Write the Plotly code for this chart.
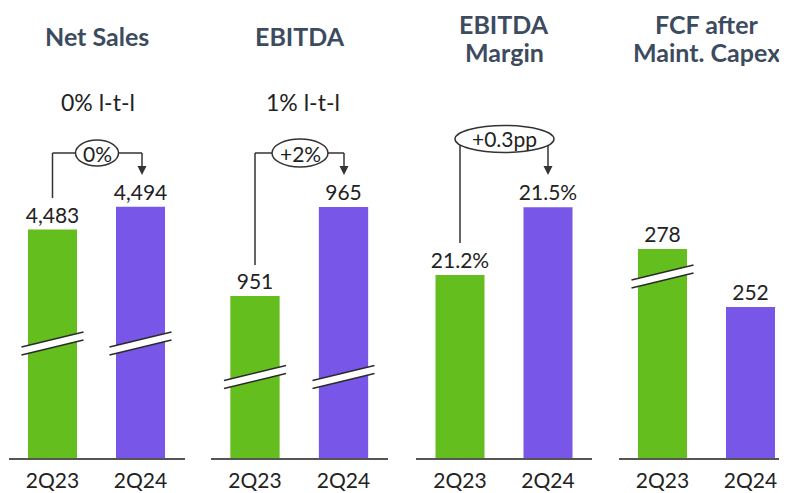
import plotly.graph_objects as go

# ---------------- data ----------------
periods = ["2Q23", "2Q24"]
net_sales = [4483, 4494]
ebitda = [951, 965]
ebitda_margin = [21.2, 21.5]
fcf_after_maint_capex = [278, 252]

panel_titles = [["Net Sales"], ["EBITDA"], ["EBITDA", "Margin"], ["FCF after", "Maint. Capex"]]
ltl_labels = ["0% l-t-l", "1% l-t-l", None, None]
change_labels = ["0%", "+2%", "+0.3pp", None]

# ---------------- styling ----------------
# the page body has an 8px margin, so the figure is offset by 8px
OFF = 8
W, H = 787 - OFF, 493 - OFF
GREEN = "#63BE1E"
PURPLE = "#7856E8"
TITLE_COLOR = "#3D4B5F"
TEXT_COLOR = "#222222"
LINE_COLOR = "#333333"
FONT = "Lato"

def px(x):
    return (x - OFF) / W

def py(y):
    return 1 - (y - OFF) / H

series = [net_sales, ebitda, ebitda_margin, fcf_after_maint_capex]
templates = ["%{y:,}", "%{y:,}", "%{y:.1f}%", "%{y:,}"]
# truncated (broken) value axes
y_ranges = [[4372.8, 4593.7], [925.5, 997.55], [20.393, 22.414], [184.3, 389.6]]
x_domains = [[px(8.5), px(184.5)], [px(210.75), px(387.75)], [px(416), px(592)], [px(618.5), 1.0]]
x_ranges = [[-0.5, 1.5], [-0.5, 1.5], [-0.5, 1.5], [-0.5, 1.415]]
y_base_px, y_top_px = 458, 0
y_domain = [py(y_base_px), 1.0]
# scale the ranges for the domain top at y=OFF instead of y=0
y_ranges = [[lo, lo + (hi - lo) * (y_base_px - OFF) / (y_base_px - y_top_px)] for lo, hi in y_ranges]

fig = go.Figure()
for i, vals in enumerate(series):
    n = "" if i == 0 else str(i + 1)
    fig.add_trace(go.Bar(
        x=periods, y=vals,
        marker=dict(color=[GREEN, PURPLE], line=dict(width=0)),
        texttemplate=templates[i], textposition="outside", constraintext="none",
        textfont=dict(family=FONT, size=21, color=TEXT_COLOR),
        cliponaxis=False,
        xaxis="x" + n, yaxis="y" + n,
        hoverinfo="skip", showlegend=False,
    ))
    fig.layout["xaxis" + n] = dict(
        domain=x_domains[i], range=x_ranges[i], type="category", anchor="y" + n,
        showline=True, linecolor="#555555", linewidth=1.5, showgrid=False,
        ticks="", ticklabelstandoff=3,
        tickfont=dict(family=FONT, size=21, color=TEXT_COLOR),
        zeroline=False, fixedrange=True,
    )
    fig.layout["yaxis" + n] = dict(
        domain=y_domain, range=y_ranges[i], anchor="x" + n, visible=False,
        showgrid=False, zeroline=False, fixedrange=True,
    )

shapes = []
annotations = []

# titles
title_cx = [96.5, 299.5, 504, 706.5]
for i, lines in enumerate(panel_titles):
    if len(lines) == 1:
        annotations.append(dict(
            x=px(title_cx[i]), y=py(36), xref="paper", yref="paper",
            text=lines[0], showarrow=False, xanchor="center", yanchor="middle",
            font=dict(family=FONT, size=25, color=TITLE_COLOR, weight="bold"),
        ))
    else:
        annotations.append(dict(
            x=px(title_cx[i]), y=1.0, xref="paper", yref="paper",
            text=lines[0], showarrow=False, xanchor="center", yanchor="top", borderpad=0,
            font=dict(family=FONT, size=25, color=TITLE_COLOR, weight="bold"),
        ))
        annotations.append(dict(
            x=px(title_cx[i]), y=py(52), xref="paper", yref="paper",
            text=lines[1], showarrow=False, xanchor="center", yanchor="middle",
            font=dict(family=FONT, size=25, color=TITLE_COLOR, weight="bold"),
        ))

# like-for-like labels
ltl_cx = [98, 303]
for i, lab in enumerate(ltl_labels):
    if lab:
        annotations.append(dict(
            x=px(ltl_cx[i]), y=py(102), xref="paper", yref="paper",
            text=lab, showarrow=False, xanchor="center", yanchor="middle",
            font=dict(family=FONT, size=23, color=TEXT_COLOR),
        ))

# connector lines, arrowheads and ovals
def line(x0, y0, x1, y1):
    shapes.append(dict(type="line", xref="paper", yref="paper",
                       x0=px(x0), y0=py(y0), x1=px(x1), y1=py(y1),
                       line=dict(color=LINE_COLOR, width=1.5)))

def arrowhead(x, ytip):
    shapes.append(dict(type="path", xref="paper", yref="paper",
                       path=f"M {px(x-4.5)},{py(ytip-9)} L {px(x+4.5)},{py(ytip-9)} L {px(x)},{py(ytip)} Z",
                       fillcolor=LINE_COLOR, line=dict(width=0)))

def oval(cx, cy, w, h, text):
    shapes.append(dict(type="circle", xref="paper", yref="paper",
                       x0=px(cx - w / 2), x1=px(cx + w / 2), y0=py(cy + h / 2), y1=py(cy - h / 2),
                       fillcolor="white", line=dict(color=LINE_COLOR, width=1.5)))
    annotations.append(dict(x=px(cx), y=py(cy), xref="paper", yref="paper",
                            text=text, showarrow=False, xanchor="center", yanchor="middle",
                            font=dict(family=FONT, size=21, color=TEXT_COLOR)))

# panel 1
line(52.5, 198, 52.5, 153); line(52.5, 153, 142, 153); line(142, 153, 142, 167)
arrowhead(142, 175)
oval(97, 153, 43, 26, change_labels[0])
# panel 2
line(255, 265, 255, 153); line(255, 153, 344, 153); line(344, 153, 344, 167)
arrowhead(344, 175)
oval(300, 153, 56, 28, change_labels[1])
# panel 3
line(460, 243, 460, 139); line(548, 139, 548, 167)
arrowhead(548, 175)
oval(504.5, 139, 99, 27, change_labels[2])

# axis-break symbols
def brk(xc, yc, hw=31, rise=7.5, gap=8):
    x0, x1 = xc - hw, xc + hw
    ya0, ya1 = yc + rise - gap / 2, yc - rise - gap / 2
    yb0, yb1 = yc + rise + gap / 2, yc - rise + gap / 2
    shapes.append(dict(type="path", xref="paper", yref="paper",
                       path=f"M {px(x0)},{py(ya0)} L {px(x1)},{py(ya1)} L {px(x1)},{py(yb1)} L {px(x0)},{py(yb0)} Z",
                       fillcolor="white", line=dict(width=0)))
    for (a, b) in [(ya0, ya1), (yb0, yb1)]:
        shapes.append(dict(type="line", xref="paper", yref="paper",
                           x0=px(x0), y0=py(a), x1=px(x1), y1=py(b),
                           line=dict(color="#2a2a2a", width=1.4)))

brk(52.5, 343.5); brk(140.5, 343.5)
brk(255, 377); brk(343.5, 377)
brk(662.5, 276.5)

fig.update_layout(
    width=W, height=H,
    margin=dict(l=0, r=0, t=0, b=0),
    paper_bgcolor="white", plot_bgcolor="white",
    bargap=0.443,
    shapes=shapes, annotations=annotations,
    font=dict(family=FONT, color=TEXT_COLOR),
)

fig.write_html("out.html")
